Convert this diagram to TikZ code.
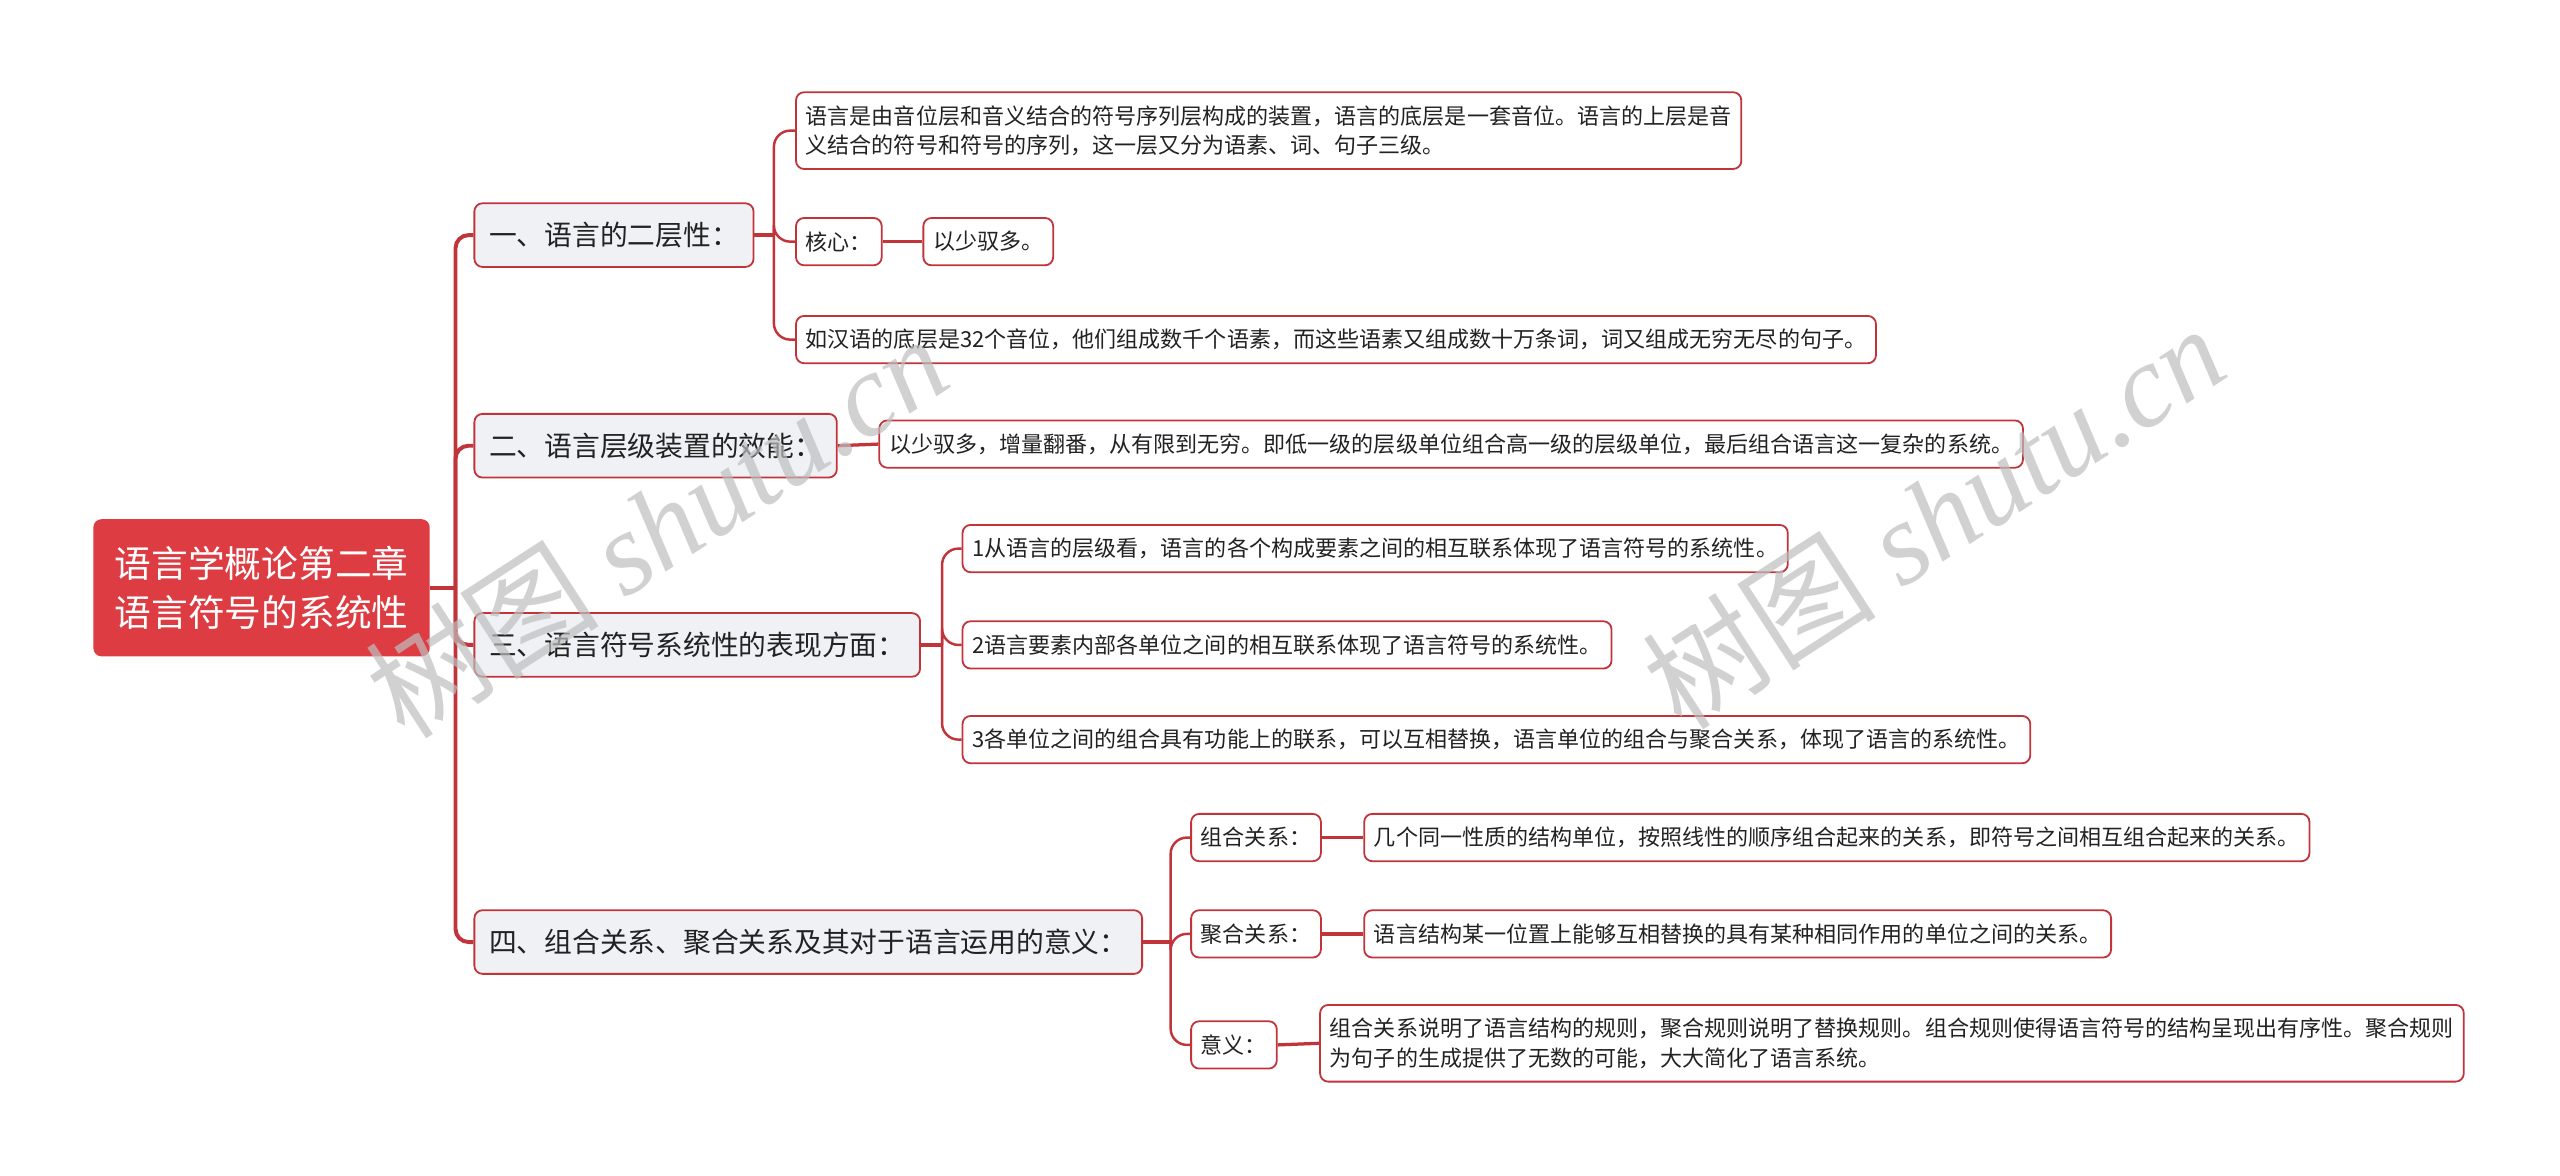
\documentclass[tikz,border=0pt]{standalone}
\usepackage{fontspec}
\setmainfont{Noto Sans CJK SC}
\newfontfamily\wmlatin{Liberation Serif}
\definecolor{linered}{RGB}{192,52,58}
\definecolor{rootred}{RGB}{221,60,66}
\definecolor{lonefill}{RGB}{239,241,244}
\definecolor{txt}{RGB}{34,34,34}
\definecolor{wm}{RGB}{190,190,190}
\begin{document}
\begin{tikzpicture}[x=1pt,y=-1pt,
  rootbox/.style={fill=rootred, rounded corners=5pt, text=white, font=\fontsize{22.5}{30}\selectfont, inner xsep=13pt, inner ysep=4pt, minimum height=84pt, align=center},
  lonebox/.style={draw=linered, fill=lonefill, line width=1.1pt, rounded corners=5pt, text=txt, font=\fontsize{17}{20}\selectfont, inner xsep=9pt, inner ysep=2pt, minimum height=39pt, anchor=west},
  ltwobox/.style={draw=linered, fill=white, line width=1.1pt, rounded corners=5pt, text=txt, font=\fontsize{13.5}{18}\selectfont, inner xsep=6pt, inner ysep=2pt, minimum height=29pt, align=left, anchor=west},
  trunk/.style={draw=linered, line width=2.4pt, rounded corners=8pt},
  twig/.style={draw=linered, line width=1.5pt, rounded corners=10pt},
  stub/.style={draw=linered, line width=2pt},
  wmark/.style={text=wm, text opacity=0.7, rotate=33, font=\fontsize{72}{76}\selectfont}
]
\path[use as bounding box, fill=white] (0,0) rectangle (1568,720);

% root
\node[rootbox, anchor=west] (root) at (57,360) {语言学概论第二章\\语言符号的系统性};

% level 1
\node[lonebox] (n1) at (290,144) {一、语言的二层性：};
\node[lonebox] (n2) at (290,273) {二、语言层级装置的效能：};
\node[lonebox] (n3) at (290,395) {三、语言符号系统性的表现方面：};
\node[lonebox] (n4) at (290,577) {四、组合关系、聚合关系及其对于语言运用的意义：};

% level 2 of n1
\node[ltwobox, minimum height=47pt] (a1) at (487,80) {语言是由音位层和音义结合的符号序列层构成的装置，语言的底层是一套音位。语言的上层是音\\义结合的符号和符号的序列，这一层又分为语素、词、句子三级。};
\node[ltwobox] (a2) at (487,148) {核心：};
\node[ltwobox] (a3) at (565,148) {以少驭多。};
\node[ltwobox] (a4) at (487,208) {如汉语的底层是32个音位，他们组成数千个语素，而这些语素又组成数十万条词，词又组成无穷无尽的句子。};

% level 2 of n2
\node[ltwobox] (b1) at (538,272) {以少驭多，增量翻番，从有限到无穷。即低一级的层级单位组合高一级的层级单位，最后组合语言这一复杂的系统。};

% level 2 of n3
\node[ltwobox] (c1) at (589,336) {1从语言的层级看，语言的各个构成要素之间的相互联系体现了语言符号的系统性。};
\node[ltwobox] (c2) at (589,395) {2语言要素内部各单位之间的相互联系体现了语言符号的系统性。};
\node[ltwobox] (c3) at (589,453) {3各单位之间的组合具有功能上的联系，可以互相替换，语言单位的组合与聚合关系，体现了语言的系统性。};

% level 2 of n4
\node[ltwobox] (d1) at (729,513) {组合关系：};
\node[ltwobox] (d1v) at (835,513) {几个同一性质的结构单位，按照线性的顺序组合起来的关系，即符号之间相互组合起来的关系。};
\node[ltwobox] (d2) at (729,572) {聚合关系：};
\node[ltwobox] (d2v) at (835,572) {语言结构某一位置上能够互相替换的具有某种相同作用的单位之间的关系。};
\node[ltwobox] (d3) at (729,640) {意义：};
\node[ltwobox, minimum height=47pt] (d3v) at (808,639) {组合关系说明了语言结构的规则，聚合规则说明了替换规则。组合规则使得语言符号的结构呈现出有序性。聚合规则\\为句子的生成提供了无数的可能，大大简化了语言系统。};

% junction points
\coordinate (jr) at (279,360);
\coordinate (j1) at (474,144);
\coordinate (j3) at (577,395);
\coordinate (j4) at (717,577);

% trunk connectors
\draw[linered, line width=2.4pt] (root.east) -- (jr);
\foreach \n in {n1,n2,n3,n4}
  \draw[trunk] (jr) |- (\n.west);

% n1 children
\draw[stub] (n1.east) -- (j1);
\foreach \c in {a1,a2,a4}
  \draw[twig] (j1) |- (\c.west);
\draw[stub] (a2.east) -- (a3.west);

% n2 child
\draw[stub] (n2.east) -- (b1.west);

% n3 children
\draw[stub] (n3.east) -- (j3);
\foreach \c in {c1,c2,c3}
  \draw[twig] (j3) |- (\c.west);

% n4 children
\draw[stub] (n4.east) -- (j4);
\foreach \c in {d1,d2,d3}
  \draw[twig] (j4) |- (\c.west);
\draw[stub] (d1.east) -- (d1v.west);
\draw[stub] (d2.east) -- (d2v.west);
\draw[stub] (d3.east) -- (d3v.west);

% watermarks (on top, as in the reference)
\node[wmark] (wm1) at (402,322) {树图 {\wmlatin\itshape shutu.cn}};
\node[wmark] (wm2) at (1184,316) {树图 {\wmlatin\itshape shutu.cn}};
\end{tikzpicture}
\end{document}
